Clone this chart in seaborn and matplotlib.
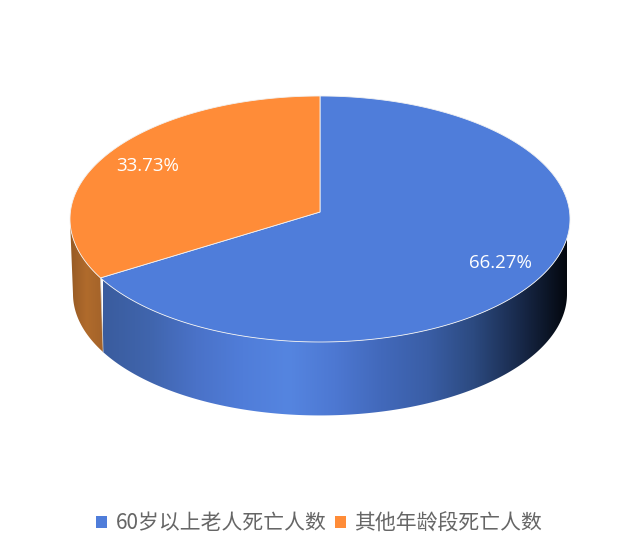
import numpy as np
import matplotlib
matplotlib.use("Agg")
import matplotlib.pyplot as plt
from matplotlib.patches import Patch
import seaborn as sns

labels = ["60岁以上老人死亡人数", "其他年龄段死亡人数"]
shares = [66.27, 33.73]

sns.set_theme(style="white")
plt.rcParams['font.family'] = ['Noto Sans CJK SC', 'DejaVu Sans']

top_colors = sns.color_palette(["#4f7dda", "#ff8c38"])
side_maps = [
    sns.blend_palette(["#3a5c9e", "#4065ad", "#4a72c8", "#507dd9", "#5585e0", "#4d78d2",
                       "#4269bb", "#3a5ea6", "#2c4a80", "#18294a", "#04080f"],
                      n_colors=256, as_cmap=True),
    sns.blend_palette(["#965a24", "#b06b2c", "#a4632a"], n_colors=256, as_cmap=True),
]
side_spans = [(103, 567), (70, 103)]

# pie geometry in pixels, the far side is pulled in a bit like a real 3d view
cx, cy = 320, 212
a0, b0, persp = 249.6, 122.6, 0.0569
depth, shrink = 75, 0.988


def project(phi, r=1.0, low=False):
    x = r * np.sin(phi)
    y = r * np.cos(phi)
    w = 1 + persp * y
    k = shrink if low else 1.0
    return cx + k * a0 * x / w, cy + (depth if low else 0) - k * b0 * y / w


fig = plt.figure(figsize=(6.4, 5.42), dpi=100)
ax = fig.add_axes([0, 0, 1, 1])

edges = np.radians(np.cumsum([0] + shares) * 3.6)
front_a = np.pi / 2 + np.arcsin(persp)
front_b = 2 * np.pi - front_a

# side walls
for i in range(len(shares)):
    start, stop = max(edges[i], front_a), min(edges[i + 1], front_b)
    phi = np.linspace(start, stop, 200)
    tx, ty = project(phi)
    bx, by = project(phi, low=True)
    poly = plt.Polygon(np.column_stack([np.r_[tx, bx[::-1]], np.r_[ty, by[::-1]]]),
                       closed=True, fc="none", ec="none", transform=ax.transData)
    ax.add_patch(poly)
    x0, x1 = side_spans[i]
    grad = np.linspace(0, 1, 256).reshape(1, -1)
    im = ax.imshow(grad, cmap=side_maps[i], extent=[x0, x1, 420, 200], aspect="auto", zorder=2)
    im.set_clip_path(poly)

# seam between the two walls
sx, sy = project(edges[1])
sx2, sy2 = project(edges[1], low=True)
ax.plot([sx, sx2], [sy, sy2], color="#c9c9c9", lw=0.7, alpha=0.7, zorder=3)

# top faces
for i in range(len(shares)):
    phi = np.linspace(edges[i], edges[i + 1], 300)
    tx, ty = project(phi)
    ax.fill(np.r_[cx, tx], np.r_[cy, ty], fc=top_colors[i], ec="#f2f2f2", lw=0.6, zorder=4,
            joinstyle="round")
    mid = (edges[i] + edges[i + 1]) / 2
    lx, ly = project(mid, r=0.81)
    ax.text(lx, ly + 1.5, f"{shares[i]:.2f}%", color="white", ha="center", va="center",
            fontsize=13.5, family="Open Sans", zorder=5)

ax.set_xlim(0, 640)
ax.set_ylim(542, 0)
ax.axis("off")

handles = [Patch(fc=c, ec="none") for c in top_colors]
fig.legend(handles, labels, loc="lower center", bbox_to_anchor=(0.4985, 0.014), ncol=2,
           frameon=False, fontsize=15, labelcolor="#666666",
           handlelength=0.55, handleheight=0.55, handletextpad=0.4, columnspacing=0.4,
           borderpad=0, borderaxespad=0)

fig.savefig("out.png", dpi=100)
